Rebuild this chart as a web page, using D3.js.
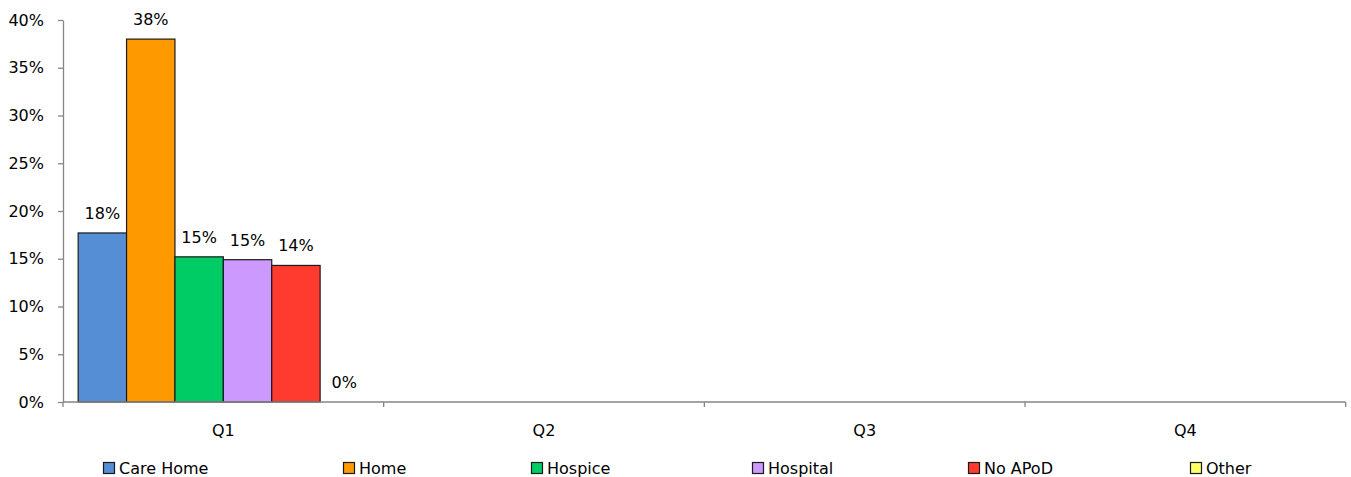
<!DOCTYPE html>
<html><head><meta charset="utf-8">
<script src="https://cdn.jsdelivr.net/npm/d3@7/dist/d3.min.js"></script>
<style>
html,body{margin:0;padding:0;background:#fff;}
text{font-family:"DejaVu Sans",sans-serif;fill:#000;}
</style></head>
<body><svg id="c" width="1351" height="477"></svg>
<script>
const quarters = ["Q1","Q2","Q3","Q4"];
const seriesNames = ["Care Home","Home","Hospice","Hospital","No APoD","Other"];
const seriesColors = ["#558ED5","#FF9900","#00CC66","#CC99FF","#FF3B2F","#FFFF66"];
// values (%) per series for Q1 only; other quarters empty
const careHome = [17.7];
const home = [38.0];
const hospice = [15.2];
const hospital = [14.9];
const noApod = [14.3];
const other = [0];
const yTicks = [0,5,10,15,20,25,30,35,40];

const seriesValues = [careHome, home, hospice, hospital, noApod, other];
const legendX = [103, 343, 531, 752, 968, 1190];
const FS = 16;

const svg = d3.select("#c");
const L = 63, R = 1345.7, T = 20, B = 402;
const x0 = d3.scaleBand().domain(quarters).range([L, R]).paddingInner(0).paddingOuter(0);
const x1 = d3.scaleBand().domain(seriesNames).range([0, x0.bandwidth()]).paddingOuter(0.3135).paddingInner(0);
const y = d3.scaleLinear().domain([0, 40]).range([B, T]);
const axisColor = "#868686";

// y axis
const ya = svg.append("g").attr("transform", `translate(${L},0)`)
  .call(d3.axisLeft(y).tickValues(yTicks).tickFormat(d => d + "%").tickSize(5).tickSizeOuter(0));
ya.select(".domain").attr("stroke", axisColor).attr("stroke-width", 1.3);
ya.selectAll(".tick line").attr("stroke", axisColor).attr("stroke-width", 1.3);
ya.selectAll(".tick text").attr("x", -19).attr("font-size", FS).attr("font-family", "'DejaVu Sans',sans-serif").attr("fill", "#000");

// bars
quarters.forEach((q, qi) => {
  seriesNames.forEach((s, si) => {
    const v = seriesValues[si][qi];
    if (v === undefined) return;
    const bx = x0(q) + x1(s);
    if (v > 0) {
      svg.append("rect")
        .attr("x", bx).attr("y", y(v))
        .attr("width", x1.bandwidth()).attr("height", y(0) - y(v))
        .attr("fill", seriesColors[si]).attr("stroke", "#1a1a1a").attr("stroke-width", 1.2);
    }
    svg.append("text")
      .attr("x", bx + x1.bandwidth() / 2).attr("y", y(v) - 14)
      .attr("text-anchor", "middle").attr("font-size", FS)
      .text(Math.round(v) + "%");
  });
});

// x axis
const xa = svg.append("g").attr("transform", `translate(0,${B})`);
xa.append("line").attr("x1", L).attr("x2", R).attr("y1", 0).attr("y2", 0)
  .attr("stroke", axisColor).attr("stroke-width", 1.3);
const bounds = quarters.map(q => x0(q)).concat([x0(quarters[quarters.length-1]) + x0.bandwidth()]);
bounds.forEach(b => xa.append("line").attr("x1", b).attr("x2", b).attr("y1", 0).attr("y2", 5)
  .attr("stroke", axisColor).attr("stroke-width", 1.3));
quarters.forEach(q => xa.append("text").attr("x", x0(q) + x0.bandwidth()/2).attr("y", 34)
  .attr("text-anchor", "middle").attr("font-size", FS).text(q));

// legend
seriesNames.forEach((s, i) => {
  const g = svg.append("g").attr("transform", `translate(${legendX[i]},462)`);
  g.append("rect").attr("x", 0.5).attr("y", 0.5).attr("width", 11).attr("height", 11)
    .attr("fill", seriesColors[i]).attr("stroke", "#1a1a1a").attr("stroke-width", 1.2);
  g.append("text").attr("x", 16).attr("y", 12).attr("font-size", FS).text(s);
});
</script></body></html>
